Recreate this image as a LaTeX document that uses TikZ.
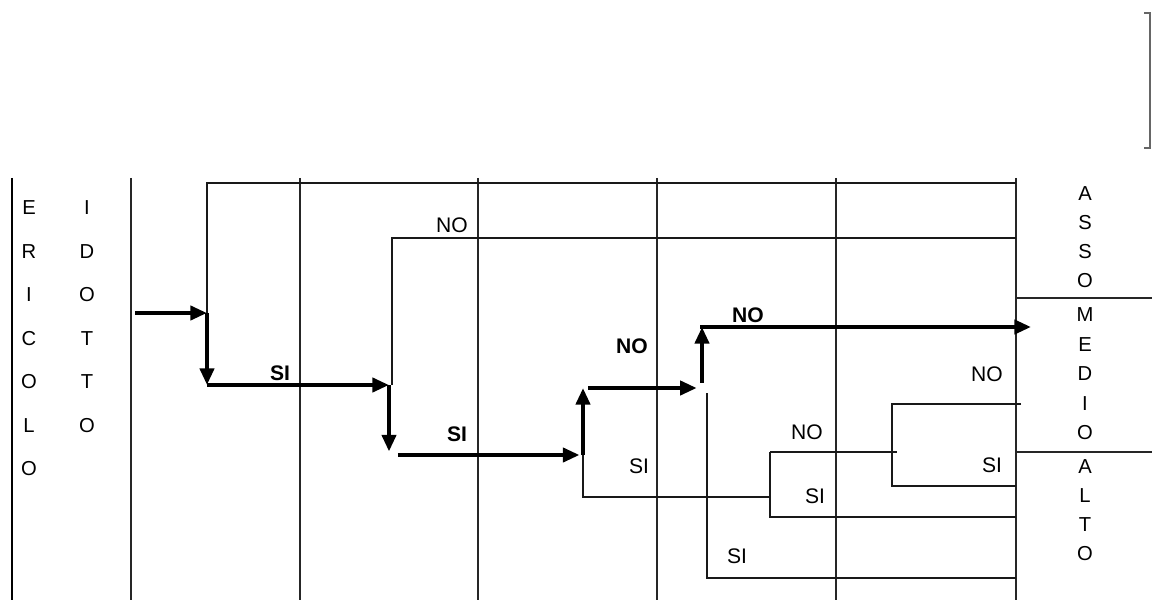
\documentclass[tikz,border=0pt]{standalone}
\usepackage{fontspec}
\setmainfont{Liberation Sans}
\usepackage{tikz}
\usetikzlibrary{arrows.meta,positioning,calc}
\tikzset{
  gridline/.style={line width=0.8pt,color=black!85},
  thinpath/.style={line width=0.8pt,color=black!90},
  flowarr/.style={-{Triangle[length=9.5pt,width=8pt]},line width=2.3pt},
  answer/.style={font=\fontsize{12}{14}\selectfont,inner sep=1pt},
  boldanswer/.style={inner sep=1pt,font=\fontsize{12}{14}\selectfont\bfseries},
  letter/.style={font=\fontsize{11.5}{13}\selectfont,inner sep=0pt}
}

\begin{document}
\begin{tikzpicture}[x=0.02cm,y=-0.02cm,>=Latex]
      \useasboundingbox (0,0) rectangle (1152,601);

      % table columns
      \draw[line width=1.4pt] (12,178) -- (12,600);
      \foreach \gx in {131,300,478,657,836,1016}
        \draw[gridline] (\gx,178) -- (\gx,600);
      \draw[gridline] (1016,298) -- (1152,298);
      \draw[gridline] (1016,452) -- (1152,452);
      \draw[line width=0.6pt,color=black!60] (1144,13) -- (1150,13) -- (1150,148) -- (1144,148);

      % column headings
      \foreach \ch [count=\i from 0] in {E,R,I,C,O,L,O}
        \node[letter] (risk\i) at (29,{208+43.5*\i}) {\ch};
      \foreach \ch [count=\i from 0] in {I,D,O,T,T,O}
        \node[letter] (red\i) at (87,{208+43.5*\i}) {\ch};
      \foreach \ch [count=\i from 0] in {A,S,S,O}
        \node[letter] (low\i) at (1085,{194+29*\i}) {\ch};
      \foreach \ch [count=\i from 0] in {M,E,D,I,O}
        \node[letter] (mid\i) at (1085,{315+29.5*\i}) {\ch};
      \foreach \ch [count=\i from 0] in {A,L,T,O}
        \node[letter] (high\i) at (1085,{467+28.7*\i}) {\ch};

      % main path
      \coordinate (start) at (135,313);
      \coordinate (j1) at (207,313);
      \coordinate (j1b) at (207,385);
      \coordinate (j2) at (389,385);
      \coordinate (j2b) at (389,455);
      \coordinate (j3) at (583,455);
      \coordinate (j4) at (583,388);
      \coordinate (j5) at (702,388);
      \coordinate (j6) at (702,327);
      \coordinate (out) at (1031,327);
      \draw[flowarr] (start) -- (j1);
      \draw[flowarr] (j1) -- (j1b);
      \draw[flowarr] (j1b) -- (j2);
      \draw[flowarr,shorten >=2pt] (j2) -- (j2b);
      \draw[flowarr,shorten <=5pt,shorten >=2pt] (j2b) -- (j3);
      \draw[flowarr] (j3) -- (j4);
      \draw[flowarr,shorten <=3pt,shorten >=3pt] (j4) -- (j5);
      \draw[flowarr,shorten <=3pt] (j5) -- (j6);
      \draw[flowarr,shorten <=-1pt] (j6) -- (out);

      % side branches
      \coordinate (topend) at (1016,183);
      \coordinate (n1end) at (1016,238);
      \coordinate (k0) at (770,497);
      \coordinate (k1) at (770,452);
      \coordinate (k2) at (770,517);
      \coordinate (k3) at (1016,517);
      \coordinate (m0) at (897,452);
      \coordinate (m1) at (892,404);
      \coordinate (m1e) at (1021,404);
      \coordinate (m2) at (892,486);
      \coordinate (m2e) at (1016,486);
      \coordinate (r1) at (707,393);
      \coordinate (r2) at (1016,578);
      \draw[thinpath] (j1) |- (topend);
      \draw[thinpath] ($(j2)+(3,0)$) |- (n1end);
      \draw[thinpath] (j3) |- (k0);
      \draw[thinpath] (k1) -- (k2) -- (k3);
      \draw[thinpath] (k1) -- (m0);
      \draw[thinpath] (m1e) -- (m1) -- (m2) -- (m2e);
      \draw[thinpath] (r1) |- (r2);

      % answers
      \node[boldanswer] (si1) at (280,373) {SI};
      \node[answer] (no1) at (452,225) {NO};
      \node[boldanswer] (si2) at (457,434) {SI};
      \node[boldanswer] (no2) at (632,346) {NO};
      \node[answer] (si3) at (639,466) {SI};
      \node[boldanswer] (no3) at (748,315) {NO};
      \node[answer] (si4) at (737,556) {SI};
      \node[answer] (no4) at (807,432) {NO};
      \node[answer] (si5) at (815,496) {SI};
      \node[answer] (no5) at (987,374) {NO};
      \node[answer] (si6) at (992,465) {SI};
    \end{tikzpicture}
\end{document}
